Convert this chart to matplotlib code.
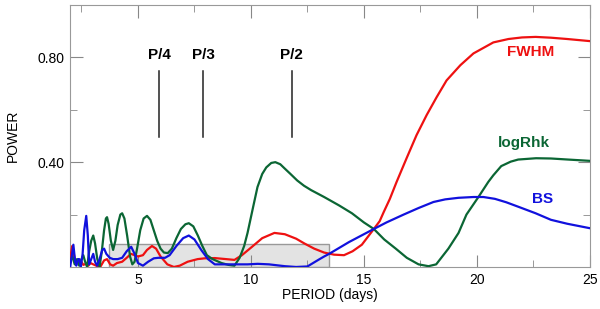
import matplotlib.pyplot as plt
from matplotlib.patches import Rectangle
from matplotlib.ticker import MultipleLocator

plt.rcParams["font.family"] = ["Liberation Sans", "DejaVu Sans"]

# periodogram curves (period in days, power)
logrhk_d = [2.00, 2.10, 2.20, 2.30, 2.40, 2.50, 2.58, 2.66, 2.75, 2.84, 2.93, 3.02, 3.10, 3.20,
            3.30, 3.40, 3.50, 3.58, 3.63, 3.70, 3.80, 3.90, 4.00, 4.10, 4.22, 4.30, 4.40, 4.52,
            4.65, 4.75, 4.85, 4.96, 5.10, 5.25, 5.40, 5.55, 5.70, 5.85, 6.00, 6.15, 6.32, 6.50,
            6.70, 6.90, 7.10, 7.25, 7.45, 7.65, 7.85, 8.05, 8.30, 8.70, 9.00, 9.27, 9.50, 9.70,
            9.85, 10.10, 10.29, 10.50, 10.68, 10.90, 11.08, 11.30, 11.48, 11.75, 12.05, 12.35,
            12.67, 13.00, 13.24, 13.90, 14.47, 15.00, 15.44, 15.90, 16.41, 16.90, 17.42, 17.86,
            18.20, 18.74, 19.19, 19.54, 20.07, 20.51, 20.73, 21.08, 21.50, 21.83, 22.62, 23.28,
            24.03, 25.00]
logrhk_p = [0.02, 0.04, 0.01, 0.03, 0.005, 0.03, 0.045, 0.02, 0.00, 0.06, 0.10, 0.12, 0.09, 0.03,
            0.00, 0.06, 0.14, 0.185, 0.19, 0.165, 0.10, 0.065, 0.10, 0.16, 0.20, 0.205, 0.185, 0.12,
            0.04, 0.01, 0.02, 0.07, 0.14, 0.185, 0.195, 0.18, 0.14, 0.10, 0.07, 0.055, 0.053, 0.07,
            0.11, 0.145, 0.163, 0.167, 0.155, 0.12, 0.08, 0.045, 0.03, 0.015, 0.008, 0.005, 0.035, 0.08,
            0.13, 0.23, 0.305, 0.355, 0.38, 0.397, 0.40, 0.392, 0.377, 0.355, 0.33, 0.31,
            0.293, 0.278, 0.267, 0.235, 0.205, 0.17, 0.145, 0.105, 0.07, 0.035, 0.01, 0.003,
            0.01, 0.07, 0.13, 0.2, 0.267, 0.325, 0.35, 0.385, 0.402, 0.41, 0.415, 0.414,
            0.41, 0.405]

bs_d = [2.00, 2.05, 2.14, 2.22, 2.27, 2.35, 2.40, 2.47, 2.55, 2.62, 2.71, 2.78, 2.84, 2.93,
        3.02, 3.10, 3.19, 3.30, 3.42, 3.50, 3.60, 3.75, 3.90, 4.10, 4.30, 4.50, 4.70, 4.85,
        5.00, 5.22, 5.45, 5.70, 5.90, 6.20, 6.40, 6.70, 7.00, 7.25, 7.50, 7.80, 8.10, 8.40,
        9.00, 9.85, 10.30, 10.80, 11.50, 12.00, 12.50, 13.00, 13.24, 13.46, 14.34, 15.00,
        15.44, 16.00, 16.76, 17.42, 18.08, 18.60, 19.19, 19.85, 20.29, 20.80, 21.30, 21.83,
        22.60, 23.28, 24.00, 25.00]
bs_p = [0.00, 0.03, 0.085, 0.02, 0.005, 0.03, 0.03, 0.00, 0.05, 0.14, 0.195, 0.12, 0.01, 0.03,
        0.05, 0.02, 0.005, 0.03, 0.065, 0.07, 0.05, 0.035, 0.03, 0.03, 0.035, 0.06, 0.077, 0.05,
        0.015, 0.005, 0.02, 0.033, 0.035, 0.035, 0.045, 0.08, 0.11, 0.12, 0.105, 0.065, 0.03, 0.01,
        0.01, 0.01, 0.012, 0.01, 0.003, 0.00, 0.002, 0.028, 0.04, 0.05, 0.095, 0.125,
        0.145, 0.17, 0.2, 0.225, 0.248, 0.258, 0.264, 0.267, 0.267, 0.26, 0.247, 0.23,
        0.205, 0.18, 0.165, 0.148]

fwhm_d = [2.00, 2.05, 2.09, 2.14, 2.22, 2.30, 2.40, 2.50, 2.58, 2.70, 2.80, 2.90, 3.02, 3.15,
          3.33, 3.50, 3.63, 3.77, 3.90, 4.07, 4.30, 4.50, 4.69, 4.85, 5.00, 5.22, 5.40, 5.62,
          5.80, 6.00, 6.30, 6.59, 6.85, 7.20, 7.64, 7.95, 8.40, 8.90, 9.27, 9.60, 10.02, 10.50,
          11.04, 11.50, 12.00, 12.36, 12.80, 13.24, 13.68, 14.12, 14.50, 14.91, 15.44, 15.70,
          15.88, 16.15, 16.45, 16.89, 17.33, 17.78, 18.22, 18.66, 19.27, 19.85, 20.73, 21.40,
          22.00, 22.60, 23.28, 24.00, 25.00]
fwhm_p = [0.035, 0.06, 0.08, 0.06, 0.02, 0.025, 0.015, 0.02, 0.008, 0.012, 0.005, 0.015, 0.01, 0.005,
          0.00, 0.025, 0.03, 0.01, 0.005, 0.015, 0.02, 0.035, 0.05, 0.045, 0.04, 0.045, 0.065, 0.08,
          0.07, 0.04, 0.01, 0.00, 0.005, 0.02, 0.03, 0.033, 0.034, 0.03, 0.027, 0.045, 0.075, 0.11,
          0.13, 0.125, 0.108, 0.09, 0.07, 0.055, 0.047, 0.045, 0.06, 0.085, 0.145, 0.175,
          0.21, 0.26, 0.325, 0.415, 0.503, 0.58, 0.648, 0.712, 0.77, 0.815, 0.857, 0.87,
          0.876, 0.878, 0.875, 0.87, 0.862]

harm_labels = ["P/4", "P/3", "P/2"]
harm_periods = [5.93, 7.9, 11.8]

fig = plt.figure(figsize=(6, 3.09), dpi=100)
ax = fig.add_axes([0.117, 0.136, 0.866, 0.848])

# shaded box (noise level region)
ax.add_patch(Rectangle((3.7, 0), 13.46 - 3.7, 0.088, facecolor="#e3e3e3",
                       edgecolor="#999999", linewidth=1.0, zorder=1))

ax.plot(fwhm_d, fwhm_p, color="#ee1111", lw=1.6, zorder=3)
ax.plot(logrhk_d, logrhk_p, color="#0b6634", lw=1.6, zorder=3)
ax.plot(bs_d, bs_p, color="#1111dd", lw=1.6, zorder=4)

for lab, per in zip(harm_labels, harm_periods):
    ax.plot([per, per], [0.495, 0.747], color="#222222", lw=1.1)
    ax.text(per, 0.81, lab, ha="center", va="center", fontsize=11, fontweight="bold")

ax.text(22.4, 0.82, "FWHM", color="#ee1111", ha="center", va="center", fontsize=11, fontweight="bold")
ax.text(22.1, 0.475, "logRhk", color="#0b6634", ha="center", va="center", fontsize=11, fontweight="bold")
ax.text(22.9, 0.26, "BS", color="#1111dd", ha="center", va="center", fontsize=11, fontweight="bold")

ax.set_xlim(2, 25)
ax.set_ylim(0, 1.0)
ax.xaxis.set_major_locator(MultipleLocator(5))
ax.xaxis.set_minor_locator(MultipleLocator(2.5))
ax.set_yticks([0.4, 0.8])
ax.set_yticklabels(["0.40", "0.80"])
ax.yaxis.set_minor_locator(MultipleLocator(0.2))
ax.tick_params(which="both", direction="in", top=True, right=True, color="#888888",
               labelsize=10, pad=4)
ax.tick_params(which="major", length=9)
ax.tick_params(which="minor", length=5)
for s in ax.spines.values():
    s.set_color("#999999")

ax.set_xlabel("PERIOD (days)", fontsize=10, labelpad=1)
ax.set_ylabel("POWER", fontsize=10, labelpad=13)

fig.savefig("out.png", dpi=100)
